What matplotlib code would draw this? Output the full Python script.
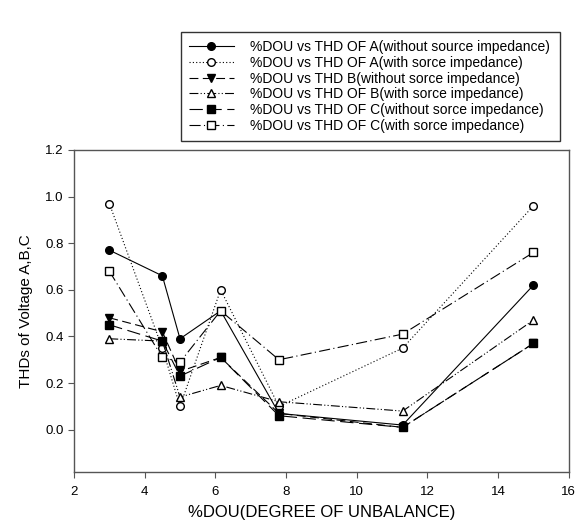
import matplotlib.pyplot as plt

plt.rcParams['font.family'] = ['Liberation Sans', 'DejaVu Sans']

dou = [3, 4.5, 5, 6.15, 7.8, 11.3, 15]
a_without = [0.77, 0.66, 0.39, 0.51, 0.07, 0.02, 0.62]
a_with = [0.97, 0.35, 0.10, 0.60, 0.10, 0.35, 0.96]
b_without = [0.48, 0.42, 0.25, 0.31, 0.07, 0.01, 0.37]
b_with = [0.39, 0.38, 0.14, 0.19, 0.12, 0.08, 0.47]
c_without = [0.45, 0.38, 0.23, 0.31, 0.06, 0.01, 0.37]
c_with = [0.68, 0.31, 0.29, 0.51, 0.30, 0.41, 0.76]

labels = ['%DOU vs THD OF A(without source impedance)',
          '%DOU vs THD OF A(with sorce impedance)',
          '%DOU vs THD B(without sorce impedance)',
          '%DOU vs THD OF B(with sorce impedance)',
          '%DOU vs THD OF C(without sorce impedance)',
          '%DOU vs THD OF C(with sorce impedance)']

fig = plt.figure(figsize=(5.78, 5.24), dpi=100)
ax = fig.add_axes([0.128, 0.0998, 0.856, 0.6142])

lw = 0.8
ms = 5.5
ax.plot(dou, a_without, '-', color='black', lw=lw, marker='o', ms=ms,
        mfc='black', mec='black', label=labels[0])
ax.plot(dou, a_with, linestyle=(0, (1, 2)), color='black', lw=lw, marker='o', ms=ms,
        mfc='white', mec='black', label=labels[1])
ax.plot(dou, b_without, linestyle=(0, (8, 4)), color='black', lw=lw, marker='v', ms=ms,
        mfc='black', mec='black', label=labels[2])
ax.plot(dou, b_with, linestyle=(0, (8, 2, 1, 2, 1, 2)), color='black', lw=lw, marker='^', ms=ms,
        mfc='white', mec='black', label=labels[3])
ax.plot(dou, c_without, linestyle=(0, (12, 5)), color='black', lw=lw, marker='s', ms=ms,
        mfc='black', mec='black', label=labels[4])
ax.plot(dou, c_with, linestyle=(0, (10, 3, 1, 3)), color='black', lw=lw, marker='s', ms=ms,
        mfc='white', mec='black', label=labels[5])

ax.set_xlim(2, 16)
ax.set_ylim(-0.18, 1.2)
ax.set_xticks(range(2, 17, 2))
ax.set_yticks([0.0, 0.2, 0.4, 0.6, 0.8, 1.0, 1.2])
ax.set_yticklabels(['0.0', '0.2', '0.4', '0.6', '0.8', '1.0', '1.2'])
ax.tick_params(direction='out', length=4, labelsize=9.5, color='#555555')
ax.tick_params(axis='x', pad=6)
for s in ax.spines.values():
    s.set_color('#555555')
    s.set_linewidth(1.0)

ax.set_xlabel('%DOU(DEGREE OF UNBALANCE)', fontsize=12, labelpad=5)
ax.set_ylabel('THDs of Voltage A,B,C', fontsize=11, labelpad=9)

leg = fig.legend(loc='upper left', bbox_to_anchor=(0.313, 0.725, 0.656, 0.214),
                 mode='expand', fontsize=10, frameon=True, fancybox=False,
                 edgecolor='black', handlelength=3.2, handletextpad=1.2,
                 labelspacing=0.12, borderpad=0.6, borderaxespad=0)
leg.get_frame().set_linewidth(1.0)

plt.savefig('out.png')
